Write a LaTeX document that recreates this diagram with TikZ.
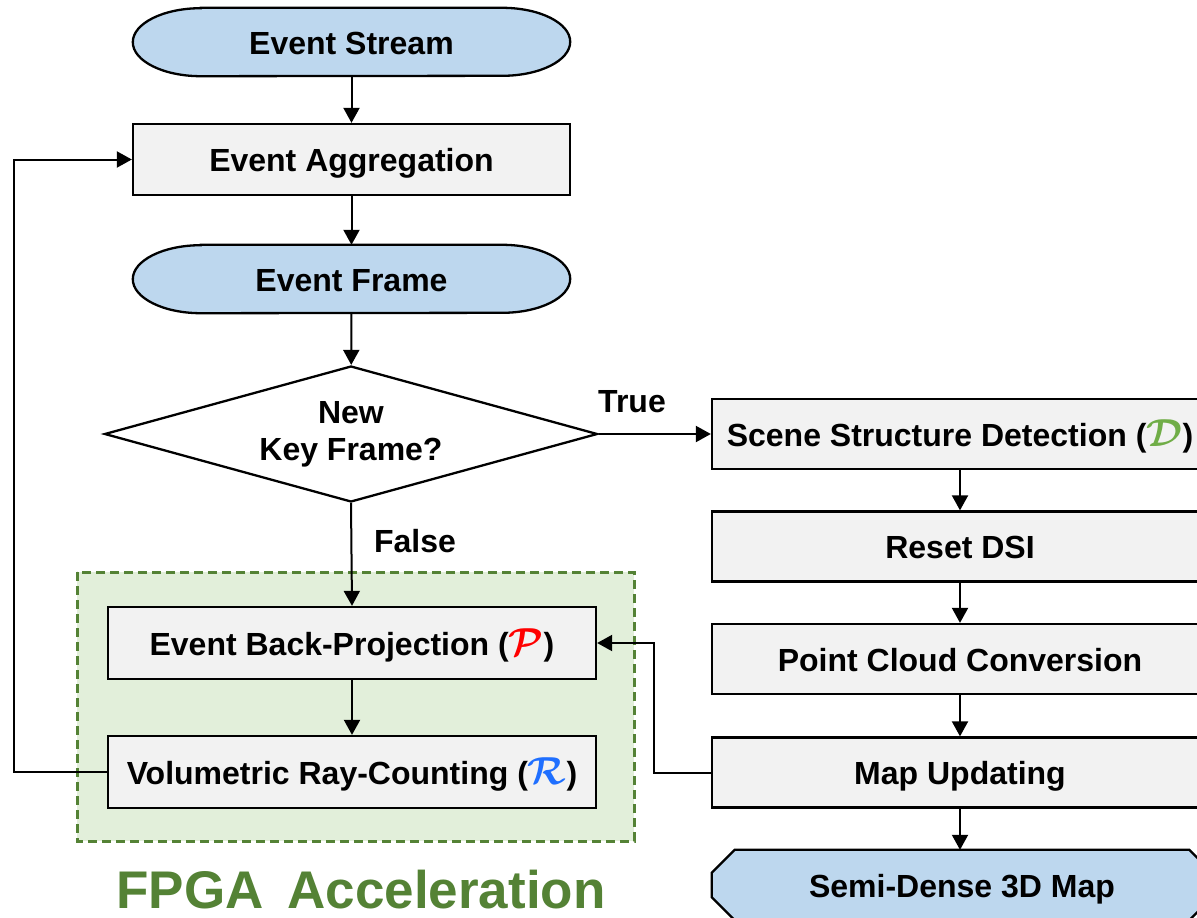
\RequirePackage{fix-cm}
\documentclass[tikz,border=0pt]{standalone}
\usepackage{amsmath,amsbsy}
\usepackage{fontspec}
\setmainfont{Liberation Sans}
\usetikzlibrary{shapes.geometric,arrows.meta,backgrounds,calc}

\definecolor{termblue}{HTML}{BDD7EE}
\definecolor{boxgray}{HTML}{F2F2F2}
\definecolor{fpgafill}{HTML}{E2EFDA}
\definecolor{fpgagreen}{HTML}{548235}
\definecolor{calred}{HTML}{FF0000}
\definecolor{calblue}{HTML}{1F6FFF}
\definecolor{calgreen}{HTML}{70AD47}

\newcommand{\calsym}[2]{\textcolor{#1}{\scalebox{1.22}{$\boldsymbol{\mathcal{#2}}$}}}

\begin{document}
\begin{tikzpicture}[x=1pt,y=-1pt,
  font=\fontsize{32}{37}\selectfont\bfseries,
  boxbase/.style={inner sep=0pt, text height=24pt, text depth=0pt},
  procbox/.style={boxbase, draw, line width=2.3pt, fill=boxgray,
    minimum width=437pt, minimum height=71pt},
  rightbox/.style={procbox, minimum width=496pt, minimum height=70pt},
  fpgabox/.style={procbox, minimum width=488pt, minimum height=72pt},
  termnode/.style={boxbase, minimum width=437pt, minimum height=68pt},
  termline/.style={draw, line width=2.3pt, fill=termblue},
  decision/.style={diamond, aspect=3.625, draw, line width=2.3pt, fill=white,
    inner sep=0pt, minimum width=493pt, minimum height=136pt, align=center},
  mapnode/.style={boxbase, minimum width=500pt, minimum height=70pt},
  flow/.style={line width=2pt, -{Triangle[length=15pt,width=16pt]}},
  branch/.style={inner sep=0pt}
]
\useasboundingbox (0,0) rectangle (1197,918);
\clip (0,0) rectangle (1197,918);

% left column
\node[termnode] (es)  at (351.5,42)  {Event Stream};
\node[procbox]  (agg) at (351.5,159.5) {Event Aggregation};
\node[termnode] (ef)  at (351.5,279) {Event Frame};
\node[decision] (kf)  at (351,434)   {New\\Key Frame?};

% accelerated stages
\node[fpgabox] (ebp) at (352,643) {Event Back-Projection (\calsym{calred}{P})};
\node[fpgabox] (vrc) at (352,772) {Volumetric Ray-Counting (\calsym{calblue}{R})};

% right column
\node[rightbox] (ssd)  at (960,434)   {Scene Structure Detection (\calsym{calgreen}{D})};
\node[rightbox] (rdsi) at (960,546.5) {Reset DSI};
\node[rightbox] (pcc)  at (960,659)   {Point Cloud Conversion};
\node[rightbox] (mu)   at (960,772.5) {Map Updating};
\node[mapnode]  (sdm)  at (962,885)   {Semi-Dense 3D Map};

% FPGA region and terminal / output outlines behind the nodes
\begin{scope}[on background layer]
  \fill[white] (0,0) rectangle (1197,918);
  \draw[fpgagreen, fill=fpgafill, line width=3pt, dash pattern=on 9pt off 5pt]
    (77,572) rectangle (634,841);
  \foreach \t in {es,ef}{
    \draw[termline] ([xshift=68pt]\t.north west) -- ([xshift=-68pt]\t.north east)
      arc[start angle=-90, end angle=90, x radius=68, y radius=34]
      -- ([xshift=68pt]\t.south west)
      arc[start angle=90, end angle=270, x radius=68, y radius=34] -- cycle;
  }
  \draw[termline] ([xshift=23pt]sdm.north west) -- ([xshift=-23pt]sdm.north east)
    -- ([yshift=-23pt]sdm.north east) -- ([yshift=23pt]sdm.south east)
    -- ([xshift=-23pt]sdm.south east) -- ([xshift=23pt]sdm.south west)
    -- ([yshift=23pt]sdm.south west) -- ([yshift=-23pt]sdm.north west) -- cycle;
\end{scope}

\node[anchor=base, text=fpgagreen, font=\fontsize{53}{60}\selectfont\bfseries]
  (fpga) at (361,908) {FPGA\hspace{0.45em}Acceleration};

% branch labels
\node[branch] (ltrue)  at (632,402) {True};
\node[branch] (lfalse) at (415,541) {False};

% connectors
\draw[flow] (es) -- (agg);
\draw[flow] (agg) -- (ef);
\draw[flow] (ef) -- (kf);
\draw[flow] (kf.east) -- (ssd.west);
\draw[flow] (kf.south) -- (ebp.north);
\draw[flow] (ebp) -- (vrc);
\draw[flow] (ssd) -- (rdsi);
\draw[flow] (rdsi) -- (pcc);
\draw[flow] (pcc) -- (mu);
\draw[flow] (mu.south) -- (mu.south |- sdm.north);

\coordinate (lx) at (14,0);
\coordinate (rx) at (654,0);
\draw[flow] (vrc.west) -- (vrc.west -| lx) |- (agg.west);
\draw[flow] (mu.west) -- (mu.west -| rx) |- (ebp.east);
\end{tikzpicture}
\end{document}
